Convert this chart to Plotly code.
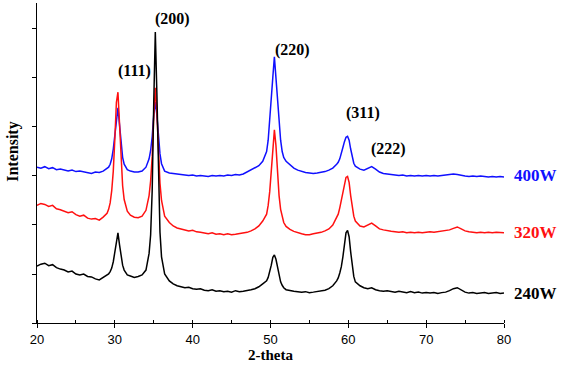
import plotly.graph_objects as go

two_theta = [
    20.0, 20.5, 21.0, 21.5, 22.0, 22.5, 23.0, 23.5, 24.0, 24.5, 25.0, 25.5, 26.0, 26.5, 27.0, 27.5, 28.0, 28.5, 29.0,
    29.2, 29.4, 29.6, 29.8, 30.0, 30.2, 30.4, 30.6, 30.8, 31.0, 31.2, 31.4, 31.6,
    32.0, 32.5, 33.0, 33.5, 34.0,
    34.2, 34.4, 34.6, 34.8, 35.0, 35.2, 35.4, 35.6, 35.8, 36.0, 36.2, 36.4,
    37.0, 37.5, 38.0, 38.5, 39.0, 39.5, 40.0, 40.5, 41.0, 41.5, 42.0, 42.5, 43.0, 43.5, 44.0, 44.5, 45.0, 45.5, 46.0, 46.5, 47.0, 47.5, 48.0, 48.5, 49.0,
    49.5, 49.7, 49.9, 50.1, 50.3, 50.5, 50.7, 50.9, 51.1, 51.3, 51.5, 51.7,
    52.0, 52.5, 53.0, 53.5, 54.0, 54.5, 55.0, 55.5, 56.0, 56.5, 57.0, 57.5, 58.0, 58.5,
    58.7, 58.9, 59.1, 59.3, 59.5, 59.7, 59.9, 60.1, 60.3, 60.5, 60.7, 60.9,
    61.5, 62.0, 62.5, 63.0, 63.5, 64.0, 64.5, 65.0, 65.5, 66.0, 66.5, 67.0, 67.5, 68.0, 68.5, 69.0, 69.5, 70.0, 70.5,
    71.0, 71.5, 72.0, 72.5, 73.0, 73.5, 74.0, 74.5, 75.0, 75.5, 76.0, 76.5, 77.0, 77.5, 78.0, 78.5, 79.0, 79.5, 80.0,
]

i_240w = [
    1.16, 1.20, 1.22, 1.17, 1.19, 1.13, 1.10, 1.08, 1.04, 1.06, 1.00, 0.98, 1.00, 0.95, 0.94, 0.90, 0.88, 0.93, 0.97,
    1.00, 1.05, 1.12, 1.25, 1.45, 1.70, 1.84, 1.60, 1.35, 1.18, 1.08, 1.02, 0.98,
    0.96, 0.93, 0.95, 0.98, 1.08,
    1.22, 1.42, 1.80, 2.70, 4.50, 5.94, 4.70, 2.90, 1.85, 1.35, 1.12, 1.00,
    0.86, 0.80, 0.76, 0.74, 0.72, 0.73, 0.70, 0.69, 0.70, 0.67, 0.66, 0.68, 0.65, 0.66, 0.64, 0.65, 0.63, 0.66, 0.64, 0.65, 0.66, 0.68, 0.70, 0.74, 0.80,
    0.86, 0.93, 1.03, 1.18, 1.34, 1.39, 1.30, 1.12, 0.95, 0.84, 0.77, 0.72,
    0.68, 0.66, 0.65, 0.64, 0.63, 0.64, 0.62, 0.63, 0.64, 0.66, 0.67, 0.70, 0.76, 0.86,
    0.92, 1.02, 1.15, 1.35, 1.62, 1.84, 1.89, 1.76, 1.45, 1.15, 0.95, 0.84,
    0.76, 0.72, 0.70, 0.72, 0.68, 0.66, 0.65, 0.66, 0.64, 0.63, 0.65, 0.63, 0.62, 0.64, 0.62, 0.63, 0.61, 0.62, 0.61,
    0.62, 0.60, 0.62, 0.63, 0.66, 0.70, 0.72, 0.68, 0.63, 0.61, 0.62, 0.60, 0.61, 0.62, 0.60, 0.61, 0.62, 0.60, 0.61,
]

i_320w = [
    2.40, 2.44, 2.42, 2.38, 2.40, 2.33, 2.31, 2.28, 2.25, 2.27, 2.21, 2.18, 2.20, 2.14, 2.12, 2.13, 2.10, 2.16, 2.24,
    2.32, 2.45, 2.70, 3.10, 3.75, 4.50, 4.71, 4.05, 3.30, 2.80, 2.52, 2.38, 2.28,
    2.20, 2.16, 2.15, 2.18, 2.30,
    2.42, 2.60, 2.90, 3.40, 4.20, 4.80, 4.30, 3.45, 2.85, 2.50, 2.30, 2.18,
    2.05, 1.98, 1.94, 1.92, 1.90, 1.88, 1.89, 1.86, 1.85, 1.84, 1.82, 1.84, 1.81, 1.82, 1.80, 1.82, 1.80, 1.81, 1.82, 1.84, 1.85, 1.88, 1.92, 1.98, 2.08,
    2.22, 2.40, 2.68, 3.10, 3.65, 3.94, 3.62, 3.05, 2.60, 2.32, 2.15, 2.05,
    1.97, 1.91, 1.87, 1.84, 1.82, 1.80, 1.80, 1.82, 1.83, 1.85, 1.88, 1.92, 2.00, 2.15,
    2.22, 2.35, 2.50, 2.68, 2.86, 2.97, 2.99, 2.87, 2.60, 2.35, 2.18, 2.08,
    1.98, 1.96, 2.00, 2.04, 1.98, 1.92, 1.90, 1.88, 1.87, 1.86, 1.85, 1.86, 1.84, 1.85, 1.84, 1.85, 1.84, 1.85, 1.86,
    1.85, 1.86, 1.87, 1.88, 1.90, 1.93, 1.96, 1.92, 1.88, 1.86, 1.85, 1.84, 1.85, 1.84, 1.85, 1.84, 1.85, 1.84, 1.84,
]

i_400w = [
    3.18, 3.16, 3.19, 3.15, 3.17, 3.13, 3.14, 3.12, 3.10, 3.12, 3.09, 3.10, 3.08, 3.06, 3.05, 3.08, 3.07, 3.10, 3.15,
    3.18, 3.24, 3.35, 3.55, 3.85, 4.20, 4.39, 4.05, 3.65, 3.38, 3.24, 3.17, 3.13,
    3.10, 3.08, 3.08, 3.10, 3.18,
    3.25, 3.35, 3.52, 3.80, 4.25, 4.51, 4.25, 3.80, 3.45, 3.25, 3.15, 3.10,
    3.06, 3.05, 3.04, 3.03, 3.02, 3.01, 3.02, 3.00, 3.01, 3.00, 2.99, 3.01, 3.00, 3.01, 3.00, 3.02, 3.01, 3.03, 3.02, 3.04, 3.08, 3.12, 3.16, 3.21, 3.30,
    3.50, 3.73, 4.10, 4.49, 5.02, 5.43, 5.02, 4.49, 4.10, 3.73, 3.50, 3.38,
    3.30, 3.22, 3.16, 3.12, 3.09, 3.07, 3.06, 3.05, 3.06, 3.07, 3.09, 3.12, 3.16, 3.24,
    3.28, 3.35, 3.45, 3.58, 3.70, 3.79, 3.81, 3.73, 3.55, 3.38, 3.26, 3.20,
    3.14, 3.12, 3.16, 3.19, 3.14, 3.08, 3.05, 3.04, 3.03, 3.02, 3.01, 3.02, 3.00, 3.01, 3.00, 3.01, 3.00, 3.01, 3.00,
    3.01, 3.00, 3.01, 3.02, 3.03, 3.04, 3.03, 3.01, 3.00, 2.99, 3.00, 2.99, 3.00, 2.99, 2.98, 2.99, 2.98, 2.99, 2.98,
]

series_names = ["400W", "320W", "240W"]
series_colors = ["#1010ff", "#ff1010", "#000000"]
series_values = [i_400w, i_320w, i_240w]

peak_labels = ["(111)", "(200)", "(220)", "(311)", "(222)"]
peak_label_x = [32.5, 37.35, 52.8, 61.9, 65.1]
peak_label_y = [5.14, 6.20, 5.57, 4.29, 3.55]

name_label_y = [3.02, 1.84, 0.61]

x_ticks = [20, 30, 40, 50, 60, 70, 80]

fig = go.Figure()
for name, color, vals in zip(series_names, series_colors, series_values):
    fig.add_trace(go.Scatter(x=two_theta, y=vals, mode="lines", name=name,
                             line=dict(color=color, width=1.5), showlegend=False))

serif = "Liberation Serif"
for txt, xx, yy in zip(peak_labels, peak_label_x, peak_label_y):
    fig.add_annotation(x=xx, y=yy, xref="x", yref="y", text="<b>" + txt + "</b>",
                       showarrow=False, font=dict(family=serif, size=16, color="black"))

for txt, color, yy in zip(series_names, series_colors, name_label_y):
    fig.add_annotation(x=1.018, y=yy, xref="paper", yref="y", xanchor="left",
                       text="<b>" + txt + "</b>", showarrow=False,
                       font=dict(family=serif, size=17, color=color))

fig.add_annotation(x=0.5, y=-0.0, xref="paper", yref="paper", yshift=-32, yanchor="middle",
                   text="<b>2-theta</b>", showarrow=False,
                   font=dict(family=serif, size=15, color="black"))
fig.add_annotation(x=0, y=0.535, xref="paper", yref="paper", xshift=-24, xanchor="center",
                   text="<b>Intensity</b>", textangle=-90, showarrow=False,
                   font=dict(family=serif, size=16, color="black"))

fig.update_layout(
    width=561, height=371,
    margin=dict(l=37, r=57, t=3, b=48),
    paper_bgcolor="white", plot_bgcolor="white",
    xaxis=dict(range=[20, 80], tickvals=x_ticks, ticks="outside", ticklen=4,
               tickcolor="black", showline=True, linecolor="black", linewidth=1,
               showgrid=False, zeroline=False,
               tickfont=dict(family="Liberation Sans", size=13, color="black"),
               minor=dict(dtick=5, ticks="inside", ticklen=3, tickcolor="black", showgrid=False)),
    yaxis=dict(range=[0, 6.53], dtick=1, ticks="outside", ticklen=4, tickcolor="black",
               showline=True, linecolor="black", linewidth=1, showgrid=False,
               zeroline=False, showticklabels=False),
)

fig.write_html("out.html")
